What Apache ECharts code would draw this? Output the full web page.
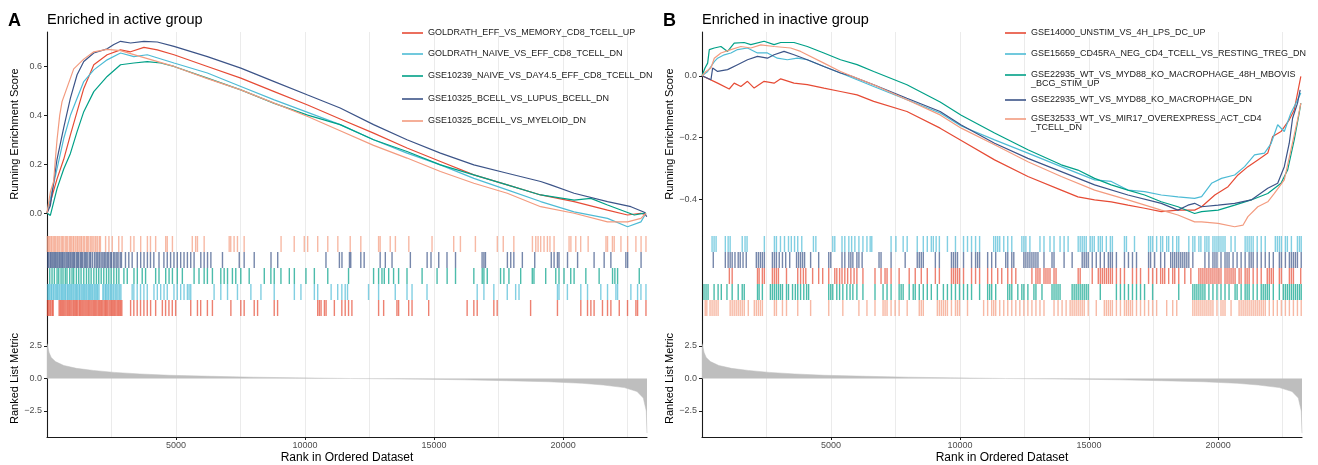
<!DOCTYPE html>
<html><head><meta charset="utf-8">
<script src="https://cdn.jsdelivr.net/npm/echarts@6/dist/echarts.min.js"></script>
<style>html,body{margin:0;padding:0;background:#fff}#c{width:1318px;height:465px}</style>
</head><body><div id="c"></div>
<script>
// ---------------- DATA ----------------
const xMax = 23250;
const xTickLabels = [5000, 10000, 15000, 20000];
const esTicksA = [0, 0.2, 0.4, 0.6];
const esTicksB = [-0.4, -0.2, 0];
const metricTicks = [-2.5, 0, 2.5];

const panelTitles = ['A', 'B'];
const panelSubtitles = ['Enriched in active group', 'Enriched in inactive group'];

const setNamesA = [
  'GOLDRATH_EFF_VS_MEMORY_CD8_TCELL_UP',
  'GOLDRATH_NAIVE_VS_EFF_CD8_TCELL_DN',
  'GSE10239_NAIVE_VS_DAY4.5_EFF_CD8_TCELL_DN',
  'GSE10325_BCELL_VS_LUPUS_BCELL_DN',
  'GSE10325_BCELL_VS_MYELOID_DN'
];
const setNamesB = [
  'GSE14000_UNSTIM_VS_4H_LPS_DC_UP',
  'GSE15659_CD45RA_NEG_CD4_TCELL_VS_RESTING_TREG_DN',
  'GSE22935_WT_VS_MYD88_KO_MACROPHAGE_48H_MBOVIS_BCG_STIM_UP',
  'GSE22935_WT_VS_MYD88_KO_MACROPHAGE_DN',
  'GSE32533_WT_VS_MIR17_OVEREXPRESS_ACT_CD4_TCELL_DN'
];
const legendLabelsB = [
  'GSE14000_UNSTIM_VS_4H_LPS_DC_UP',
  'GSE15659_CD45RA_NEG_CD4_TCELL_VS_RESTING_TREG_DN',
  'GSE22935_WT_VS_MYD88_KO_MACROPHAGE_48H_MBOVIS\n_BCG_STIM_UP',
  'GSE22935_WT_VS_MYD88_KO_MACROPHAGE_DN',
  'GSE32533_WT_VS_MIR17_OVEREXPRESS_ACT_CD4\n_TCELL_DN'
];

// running enrichment score curves, [rank, score]
const esA_goldrathEff = [[0,0],[130,0.045],[389,0.14],[648,0.22],[907,0.32],[1166,0.415],[1425,0.51],[1813,0.607],[2331,0.648],[2849,0.668],[3238,0.66],[3756,0.678],[4274,0.668],[4921,0.648],[6216,0.60],[7511,0.552],[8806,0.497],[10101,0.442],[11360,0.385],[12655,0.327],[13950,0.266],[15245,0.211],[16540,0.156],[17835,0.115],[19130,0.074],[20425,0.047],[21720,0.012],[22497,-0.008],[23015,-0.001],[23210,-0.008]];
const esA_goldrathNaive = [[0,0],[130,0.059],[389,0.182],[648,0.305],[907,0.40],[1166,0.47],[1425,0.538],[1813,0.586],[2331,0.627],[2849,0.655],[3367,0.64],[3885,0.648],[4921,0.614],[6216,0.573],[7511,0.518],[8806,0.463],[10101,0.412],[11360,0.362],[12655,0.30],[13950,0.245],[15245,0.197],[16540,0.142],[17835,0.095],[19130,0.047],[20425,0.005],[21720,-0.022],[22497,-0.056],[23015,-0.036],[23210,-0.001]];
const esA_gse10239 = [[0,0],[130,-0.01],[389,0.10],[648,0.18],[907,0.244],[1166,0.333],[1425,0.415],[1813,0.497],[2331,0.559],[2849,0.607],[3367,0.614],[3885,0.62],[4403,0.614],[4921,0.60],[6216,0.552],[7511,0.504],[8806,0.449],[10101,0.401],[11360,0.362],[12655,0.30],[13950,0.252],[15245,0.197],[16540,0.156],[17835,0.115],[19130,0.074],[20425,0.053],[21073,0.06],[21720,0.033],[22756,-0.008],[23210,0.001]];
const esA_gse10325Lupus = [[0,0],[130,0.03],[389,0.22],[648,0.35],[907,0.47],[1166,0.566],[1425,0.62],[1813,0.655],[2331,0.672],[2590,0.69],[2849,0.703],[3238,0.696],[3756,0.703],[4274,0.70],[4921,0.682],[6216,0.64],[7511,0.593],[8806,0.538],[10101,0.483],[11360,0.43],[12655,0.362],[13950,0.30],[15245,0.245],[16540,0.197],[17835,0.163],[19130,0.129],[19519,0.115],[20425,0.081],[21720,0.047],[22627,0.026],[23145,0.003],[23240,-0.015]];
const esA_gse10325Myeloid = [[0,0],[130,0.086],[259,0.13],[324,0.22],[389,0.30],[492,0.40],[583,0.456],[1036,0.59],[1425,0.63],[1813,0.66],[2331,0.67],[2849,0.665],[3626,0.64],[4921,0.60],[6216,0.55],[7511,0.504],[8806,0.45],[10101,0.395],[11360,0.337],[12655,0.277],[13950,0.225],[15245,0.17],[16540,0.122],[17835,0.081],[19130,0.026],[20425,-0.001],[21720,-0.036],[22497,-0.036],[23015,-0.022],[23210,-0.001]];

const esB_gse14000 = [[0,0],[605,-0.024],[1055,-0.043],[1248,-0.024],[1506,-0.035],[1763,-0.018],[2021,-0.04],[2407,-0.018],[2793,-0.024],[3050,-0.01],[3565,-0.024],[4080,-0.029],[4723,-0.04],[5367,-0.051],[6010,-0.062],[6654,-0.083],[7941,-0.116],[9228,-0.17],[10045,-0.21],[11337,-0.273],[12629,-0.327],[13921,-0.371],[14567,-0.393],[15213,-0.403],[15859,-0.409],[16505,-0.42],[17151,-0.43],[17797,-0.441],[18443,-0.436],[19089,-0.436],[19359,-0.425],[19872,-0.387],[20385,-0.36],[20769,-0.322],[21154,-0.295],[21538,-0.273],[21923,-0.251],[22115,-0.197],[22436,-0.181],[22756,-0.143],[22949,-0.111],[23205,-0.002]];
const esB_gse15659 = [[0,0],[219,0.014],[347,0.03],[476,0.046],[605,0.057],[862,0.068],[1120,0.074],[1377,0.085],[1763,0.09],[2149,0.074],[2535,0.074],[2921,0.057],[3308,0.052],[3694,0.057],[4080,0.052],[4723,0.03],[5367,0.009],[6654,-0.035],[7941,-0.078],[9228,-0.121],[10045,-0.163],[11337,-0.208],[12629,-0.251],[13921,-0.295],[15213,-0.338],[15859,-0.343],[16505,-0.371],[17151,-0.376],[17797,-0.387],[18443,-0.393],[19089,-0.398],[19359,-0.392],[19744,-0.349],[20128,-0.333],[20641,-0.322],[21026,-0.295],[21410,-0.257],[21795,-0.251],[22051,-0.22],[22308,-0.159],[22564,-0.181],[22820,-0.121],[23013,-0.089],[23205,-0.056]];
const esB_gse22935_48h = [[0,0],[116,0.025],[219,0.041],[283,0.085],[476,0.09],[734,0.095],[991,0.079],[1248,0.106],[1634,0.108],[1892,0.101],[2407,0.112],[2793,0.101],[3050,0.108],[3565,0.108],[4080,0.095],[4723,0.074],[5367,0.052],[6010,0.036],[6654,0.014],[7941,-0.029],[9228,-0.085],[10045,-0.128],[11337,-0.186],[12629,-0.24],[13921,-0.289],[14567,-0.306],[15213,-0.333],[15859,-0.354],[16505,-0.371],[17151,-0.387],[17797,-0.409],[18443,-0.425],[19089,-0.447],[19359,-0.441],[20000,-0.436],[20641,-0.42],[21282,-0.403],[21923,-0.382],[22436,-0.349],[22692,-0.306],[22949,-0.208],[23141,-0.121],[23205,-0.089]];
const esB_gse22935_dn = [[0,0],[347,-0.013],[412,0.025],[605,0.014],[991,0.02],[1377,0.036],[1763,0.052],[2149,0.063],[2535,0.057],[2793,0.068],[3179,0.079],[3565,0.068],[4080,0.052],[4723,0.03],[5367,0.009],[5753,0],[6654,-0.029],[7941,-0.073],[9228,-0.116],[10045,-0.16],[11337,-0.219],[12629,-0.268],[13921,-0.311],[15213,-0.354],[16505,-0.387],[17797,-0.414],[18443,-0.436],[18831,-0.42],[19089,-0.414],[19359,-0.425],[20000,-0.42],[20641,-0.414],[21282,-0.403],[21923,-0.365],[22308,-0.349],[22564,-0.295],[22756,-0.219],[22885,-0.138],[23077,-0.089],[23179,-0.046]];
const esB_gse32533 = [[0,0],[154,0.014],[347,0.025],[476,0.057],[734,0.074],[1120,0.085],[1506,0.095],[1892,0.09],[2278,0.10],[2793,0.095],[3436,0.09],[3822,0.079],[4723,0.041],[5367,0.014],[6010,-0.008],[6654,-0.029],[7941,-0.078],[9228,-0.127],[10045,-0.17],[11337,-0.224],[12629,-0.279],[13921,-0.327],[15213,-0.371],[16505,-0.403],[17797,-0.436],[18443,-0.452],[19089,-0.474],[19359,-0.474],[20000,-0.479],[20641,-0.49],[20962,-0.485],[21154,-0.457],[21538,-0.425],[21923,-0.409],[22179,-0.382],[22564,-0.338],[22820,-0.241],[23077,-0.143],[23205,-0.089]];

// gene set hit positions (rank)
const hitsA_goldrathEff = [20,60,110,150,205,240,470,515,560,605,650,695,740,790,835,880,925,970,1020,1065,1110,1150,1195,1250,1290,1335,1385,1430,1475,1520,1570,1615,1660,1705,1750,1800,1845,1890,1935,1985,2030,2075,2120,2165,2215,2260,2300,2345,2400,2445,2490,2535,2580,2625,2670,2720,2765,2810,2855,2900,3240,3365,3495,3625,3755,3885,4015,4210,4470,4595,4725,4855,4985,5570,5830,5955,6215,6410,7125,7510,7640,8030,8160,8805,8935,10490,10555,10620,10750,10815,11135,11425,11555,11685,11815,12850,13045,13560,13625,14015,14145,14790,16280,16540,16670,17315,17445,18740,19780,20685,20945,21075,21200,21525,21720,21850,22175,22495,22820,22885,23210];
const hitsA_goldrathNaive = [25,65,105,155,185,240,275,330,375,415,465,505,560,595,645,690,725,785,820,865,915,955,1005,1045,1095,1140,1175,1235,1265,1320,1365,1415,1455,1505,1545,1600,1645,1685,1735,1775,1830,1875,1925,1965,2015,2165,2205,2265,2295,2355,2395,2455,2495,2555,2595,2655,2705,2755,2815,2865,3300,3365,3495,3625,3755,3885,4145,4275,4405,4535,4660,4920,5050,5180,5310,5440,5505,5570,6475,6735,6995,7380,7900,8290,8805,9585,9840,10360,10490,11010,11265,11425,11555,11645,12460,12850,13495,13950,14145,14725,16670,16930,17315,17835,18160,18290,19780,19840,20165,20685,20945,21460,21720,22045,22110,22625,22885,23015,23210];
const hitsA_gse10239 = [105,195,285,390,455,545,620,710,775,880,970,1035,1140,1230,1320,1425,1530,1620,1710,1815,1915,2005,2100,2200,2305,2395,2485,2590,2695,2785,2980,3110,3370,3500,3690,3820,4210,4340,4600,4730,4860,5050,5245,5700,5890,6090,6215,6410,6735,6865,6995,7185,7315,7510,7835,8420,8675,8805,9065,9390,9585,10035,10360,10880,11685,12655,12850,12980,13070,13240,13430,13625,13950,14535,15115,15505,15830,16540,16865,16930,17060,17575,17705,17900,18355,18805,18870,19325,19715,19840,20035,20295,20425,20880,21395,21915,22005,22110,22950];
const hitsA_gse10325Lupus = [30,70,125,160,205,255,300,340,385,425,475,515,570,605,655,700,755,805,845,895,935,990,1035,1075,1140,1185,1225,1290,1335,1375,1440,1485,1535,1585,1655,1695,1765,1845,1905,1955,2015,2055,2125,2175,2235,2285,2345,2395,2465,2505,2585,2635,2705,2755,2835,2885,3040,3170,3300,3500,3630,3760,3890,4010,4140,4340,4530,4660,4790,4920,5050,5180,5310,5440,5570,5700,5960,6090,6220,6350,6800,7450,7640,8030,8680,8940,10810,11330,11430,11720,11770,12160,12290,12910,13110,13370,14080,14730,14880,15180,15500,15830,16860,16930,16990,17840,17970,18090,18420,18900,19540,19650,19780,19840,20170,20560,21200,21590,21850,22430,22500,23020];
const hitsA_gse10325Myeloid = [15,60,95,150,185,240,290,330,390,430,480,545,590,630,700,745,790,860,905,950,1010,1040,1100,1160,1195,1250,1310,1345,1410,1460,1530,1570,1620,1690,1740,1790,1860,1900,1960,2030,2070,2270,2400,2530,2780,2910,3240,3370,3630,3890,4010,4210,4600,4660,4860,5630,5760,5830,6090,7060,7120,7250,7380,7640,9070,9580,9970,10100,10490,10880,11270,11750,12160,12850,12910,13300,13500,14020,14920,15760,16020,16600,17450,17680,18090,18810,18940,19030,19130,19260,19390,19490,19650,20230,20300,20490,20680,20970,21660,21720,21910,21980,22240,22500,22820,23020,23210];

const hitsB_gse14000 = [1060,1169,2151,2214,2339,2416,2728,2806,2884,2962,3274,3710,3820,3929,4022,4287,4521,4677,4911,5145,5223,5332,5425,5534,5644,5768,5893,6002,6236,6704,6938,7093,7171,7327,7639,8029,8263,8497,8730,9042,9198,9666,9744,9822,9900,9978,10134,10445,10601,10757,11069,11225,11459,11615,11848,12004,12160,12784,12940,13018,13096,13252,13329,13407,13485,13641,13719,14577,14655,15122,15356,15434,15512,15590,15668,15746,15824,15902,16058,16214,16370,16681,16837,16993,17305,17461,17617,17773,17851,17929,18084,18240,18318,18474,18708,18942,19254,19332,19410,19488,19565,19643,19721,19799,19877,19955,20033,20111,20267,20345,20423,20501,20579,20657,20813,20891,21047,21124,21202,21358,21514,21670,21904,21982,22060,22138,22372,22450,22761,22839,22917,23200];
const hitsB_gse15659 = [390,468,546,904,1013,1091,1559,1668,1746,2416,2806,2884,3040,3196,3352,3461,3586,3710,3866,4318,4412,5067,5145,5425,5534,5690,5799,5924,6080,6236,6392,6517,6579,7327,7514,7795,7951,8341,8575,8730,8886,8964,9073,9198,9510,9822,10134,10289,10445,10601,10757,11303,11381,11459,11537,11693,11848,12004,12394,12472,12550,12706,13096,13252,13485,13641,13875,14031,14187,14577,14655,14733,14811,14889,15044,15122,15200,15356,15434,15512,15668,15824,15902,16370,16447,16759,17305,17383,17461,17617,17773,17851,18007,18084,18240,18396,18474,18864,19020,19098,19254,19332,19488,19565,19643,19799,19877,19955,20033,20111,20189,20267,20501,20657,21047,21124,21202,21280,21358,21514,21670,21826,22216,22294,22372,22450,22606,22683,22839,23073,23151,23220];
const hitsB_gse22935_48h = [78,156,234,468,624,748,967,1169,1403,1559,1637,2151,2214,2339,2650,2728,2806,2884,2962,3040,3118,3274,3352,3508,3617,3710,3820,3944,4053,4131,4911,4989,5067,5223,5332,5457,5612,5737,5846,6002,6236,6704,7016,7171,7327,7639,7717,7795,8029,8185,8263,8419,8575,8730,8886,9120,9354,9510,9666,9822,9978,10134,10289,10445,10757,11069,11147,11225,11381,11848,11926,12004,12238,12394,12472,12628,12862,12940,13174,13563,13641,13719,13797,13875,14343,14421,14499,14577,14655,14733,14811,14889,14966,15434,16058,16214,16370,16525,16681,16837,16993,17149,17461,18474,19020,19098,19176,19254,19332,19410,19488,19643,19799,19955,20111,20267,20423,20657,20735,20891,21047,21124,21202,21358,21514,21670,21748,21826,21904,21982,22138,22372,22528,22606,22683,22761,22839,22917,22995,23073,23151,23220];
const hitsB_gse22935_dn = [437,904,1013,1091,1169,1278,1403,1481,1590,1715,2105,2183,2261,2339,2416,2728,2806,2884,2993,3118,3243,3399,3664,3742,3820,3898,3975,4209,4521,4911,4989,5425,5534,5690,5768,5846,6002,6080,6205,6860,6938,7327,7873,8341,8419,8497,8575,9042,9198,9666,9744,9822,9900,10134,10445,10601,10679,10757,11069,11225,11381,11770,11848,12004,12082,12472,12550,12628,12706,12784,12862,12940,13018,13252,13563,13641,14031,14343,14733,14811,14889,14966,15122,15278,15434,15590,15746,15824,15902,16058,16370,16525,16681,16837,17305,17383,17539,17773,17929,18162,18240,18318,18396,18474,18552,18630,18708,18786,18864,19020,19488,19643,19799,19877,19955,20111,20267,20345,20423,20579,20735,20891,21047,21202,21280,21358,21514,21670,21826,21982,22138,22372,22450,22606,22761,22839,22917,22995,23073,23220];
const hitsB_gse32533 = [125,187,312,390,468,546,624,1091,1169,1247,1325,1403,1481,1559,1637,1793,2027,2105,2183,2261,2339,2806,2884,3118,3274,3710,4209,4911,5457,6080,6392,6704,7016,7093,7171,7327,7483,7639,7951,8419,8497,8575,9120,9198,9276,9354,9432,9510,9666,9822,9900,9978,10289,10913,11069,11225,11303,11381,11537,11693,11848,12004,12160,12316,12472,12628,12784,12940,13096,13252,13641,13797,13953,14109,14265,14343,14421,14499,14577,14655,14733,14811,14966,15278,15590,15668,15746,15824,15902,16058,16214,16370,16447,16525,16603,16681,16837,16993,17149,17305,17461,17617,18007,18240,18396,19020,19098,19176,19254,19332,19410,19488,19565,19643,19721,19799,19955,20111,20189,20267,20501,20813,20891,20969,21047,21124,21202,21280,21358,21436,21514,21592,21670,21748,21826,21982,22138,22294,22450,22606,22761,22917,23073,23220];

// ranked list metric, [rank, metric]
const rankedMetric = [[0,2.7],[82,2.0],[163,1.62],[327,1.3],[653,1.0],[1143,0.78],[1796,0.62],[2613,0.47],[3593,0.35],[4736,0.25],[6369,0.17],[8002,0.1],[9635,0.05],[11268,0.01],[11758,0],[14534,-0.05],[16167,-0.1],[17800,-0.17],[19433,-0.25],[20739,-0.37],[21556,-0.5],[22372,-0.7],[22862,-1.0],[23107,-1.5],[23221,-2.5],[23250,-4.2]];

// ---------------- STYLE / LAYOUT ----------------
const palette = ['#E64B35', '#4DBBD5', '#00A087', '#3C5488', '#F39B7F'];
const FONT = '"Liberation Sans", Arial, Helvetica, sans-serif';
const AXIS_COL = '#1a1a1a';
const LAB_COL = '#4d4d4d';
const fmt1 = v => (v < 0 ? '\u2212' : '') + Math.abs(v).toFixed(1);

const option = {
  animation: false,
  backgroundColor: '#fff',
  textStyle: { fontFamily: FONT },
  title: [], legend: [], grid: [], xAxis: [], yAxis: [], series: []
};

function gridXAxis(gi) {
  // vertical grid lines every 2500 (major + minor), no line/labels
  option.xAxis.push({
    type: 'value', gridIndex: gi, min: 0, max: xMax, interval: 2500,
    axisLine: { show: false }, axisTick: { show: false }, axisLabel: { show: false },
    splitLine: { show: true, showMinLine: false, showMaxLine: false, lineStyle: { color: '#ebebeb', width: 1 } }
  });
  return option.xAxis.length - 1;
}

function addPanel(cfg) {
  const g0 = option.grid.length;
  const L = cfg.left, W = 600;
  option.grid.push({ left: L, width: W, top: 32, height: 204 });
  option.grid.push({ left: L, width: W, top: 236, height: 84 });
  option.grid.push({ left: L, width: W, top: 320, height: 117 });

  const xTop = gridXAxis(g0);
  const xRug = gridXAxis(g0 + 1);
  const xBotGrid = gridXAxis(g0 + 2);
  option.xAxis.push({
    type: 'value', gridIndex: g0 + 2, min: 0, max: xMax, position: 'bottom',
    axisLine: { show: true, onZero: false, lineStyle: { color: AXIS_COL, width: 1.1 } },
    axisTick: { show: true, length: 3, customValues: xTickLabels, lineStyle: { color: AXIS_COL } },
    axisLabel: { show: true, customValues: xTickLabels, formatter: v => String(v), fontSize: 9, color: LAB_COL, margin: 4 },
    splitLine: { show: false },
    name: 'Rank in Ordered Dataset', nameLocation: 'middle', nameGap: 15,
    nameTextStyle: { fontSize: 12, color: '#000' }
  });
  const xBot = option.xAxis.length - 1;

  const y0 = option.yAxis.length;
  option.yAxis.push({
    type: 'value', gridIndex: g0, min: cfg.yMin, max: cfg.yMax,
    axisLine: { show: true, onZero: false, lineStyle: { color: AXIS_COL, width: 1.1 } },
    axisTick: { show: true, length: 3, customValues: cfg.yTicks, lineStyle: { color: AXIS_COL } },
    axisLabel: { customValues: cfg.yTicks, formatter: fmt1, fontSize: 9, color: LAB_COL, margin: 5 },
    splitLine: { show: false },
    name: 'Running Enrichment Score', nameLocation: 'middle', nameRotate: 90, nameGap: 27,
    nameTextStyle: { fontSize: 11, color: '#000' }
  });
  option.yAxis.push({
    type: 'value', gridIndex: g0 + 1, min: 0, max: 5.25, inverse: true,
    axisLine: { show: true, onZero: false, lineStyle: { color: AXIS_COL, width: 1.1 } },
    axisTick: { show: false }, axisLabel: { show: false }, splitLine: { show: false }
  });
  option.yAxis.push({
    type: 'value', gridIndex: g0 + 2, min: -4.5, max: 4.5,
    axisLine: { show: true, onZero: false, lineStyle: { color: AXIS_COL, width: 1.1 } },
    axisTick: { show: true, length: 3, customValues: metricTicks, lineStyle: { color: AXIS_COL } },
    axisLabel: { customValues: metricTicks, formatter: fmt1, fontSize: 9, color: LAB_COL, margin: 5 },
    splitLine: { show: false },
    name: 'Ranked List Metric', nameLocation: 'middle', nameRotate: 90, nameGap: 27,
    nameTextStyle: { fontSize: 11, color: '#000' }
  });

  option.title.push({ text: cfg.tag, left: L - 39, top: 12, padding: 0,
    textStyle: { fontSize: 18, fontWeight: 'bold', color: '#000' } });
  option.title.push({ text: cfg.subtitle, left: L, top: 12, padding: 0,
    textStyle: { fontSize: 14.5, fontWeight: 'normal', color: '#000' } });

  option.series.push({
    type: 'line', name: cfg.tag + '_metric', xAxisIndex: xBot, yAxisIndex: y0 + 2,
    data: rankedMetric, symbol: 'none', silent: true,
    lineStyle: { color: '#bebebe', width: 0.5 },
    areaStyle: { color: '#bebebe', opacity: 1 }
  });

  cfg.names.forEach((name, i) => {
    const col = palette[i];
    option.series.push({
      type: 'line', name, xAxisIndex: xTop, yAxisIndex: y0, data: cfg.curves[i],
      symbol: 'none', lineStyle: { color: col, width: 1.2 }, itemStyle: { color: col }, silent: true
    });
    const row = cfg.rowOrder.indexOf(i);
    option.series.push({
      type: 'scatter', name: name + ' hits', xAxisIndex: xRug, yAxisIndex: y0 + 1,
      data: cfg.hits[i].map(r => [r, row + 0.5]),
      symbol: 'rect', symbolSize: [1.4, 16], silent: true,
      itemStyle: { color: col, opacity: 0.7 }
    });
    const label = cfg.labels[i];
    const twoLine = label.indexOf('\n') >= 0;
    option.legend.push({
      data: [name], left: cfg.legendLeft, top: cfg.legendTops[i], padding: 0,
      icon: 'rect', itemWidth: 21, itemHeight: 1.6, selectedMode: false,
      formatter: () => (twoLine ? '\n' + label : label),
      textStyle: { fontSize: 9, lineHeight: 9, color: '#1a1a1a', fontFamily: FONT }
    });
  });
}

addPanel({
  tag: panelTitles[0], subtitle: panelSubtitles[0], left: 47,
  yMin: -0.094, yMax: 0.741, yTicks: esTicksA,
  names: setNamesA, labels: setNamesA,
  curves: [esA_goldrathEff, esA_goldrathNaive, esA_gse10239, esA_gse10325Lupus, esA_gse10325Myeloid],
  hits: [hitsA_goldrathEff, hitsA_goldrathNaive, hitsA_gse10239, hitsA_gse10325Lupus, hitsA_gse10325Myeloid],
  rowOrder: [4, 3, 2, 1, 0],
  legendLeft: 402, legendTops: [28.5, 49.5, 71.5, 94.5, 116.5]
});
addPanel({
  tag: panelTitles[1], subtitle: panelSubtitles[1], left: 702,
  yMin: -0.52, yMax: 0.142, yTicks: esTicksB,
  names: setNamesB, labels: legendLabelsB,
  curves: [esB_gse14000, esB_gse15659, esB_gse22935_48h, esB_gse22935_dn, esB_gse32533],
  hits: [hitsB_gse14000, hitsB_gse15659, hitsB_gse22935_48h, hitsB_gse22935_dn, hitsB_gse32533],
  rowOrder: [1, 3, 0, 2, 4],
  legendLeft: 1005, legendTops: [28.5, 49.5, 61.5, 95.5, 105.5]
});

const chart = echarts.init(document.getElementById('c'), null, { renderer: 'canvas' });
chart.setOption(option);
</script></body></html>
